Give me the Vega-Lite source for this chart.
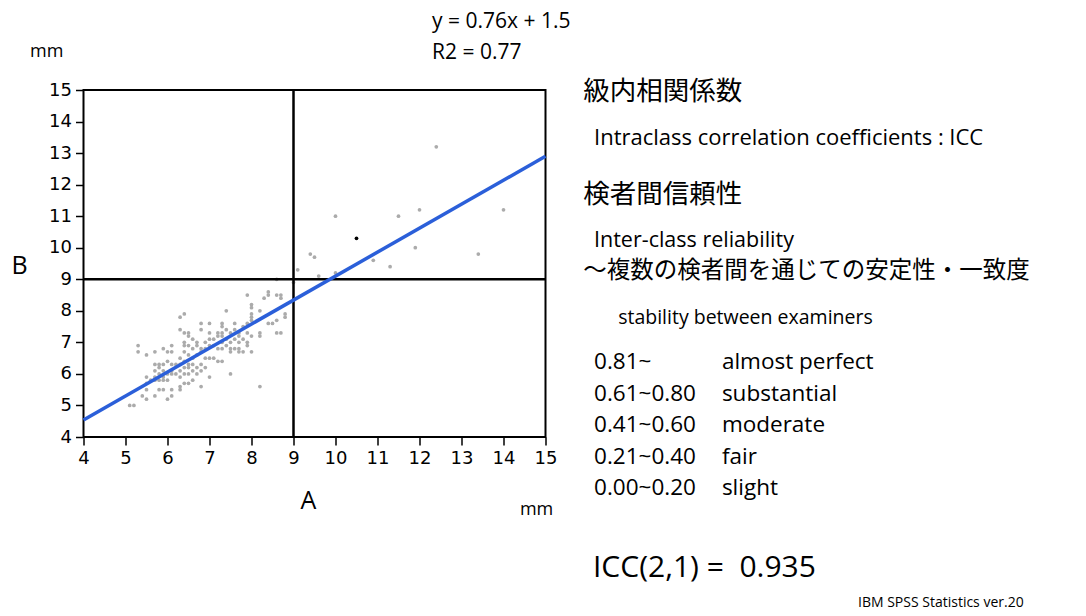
{
  "$schema": "https://vega.github.io/schema/vega-lite/v6.json",
  "width": 462,
  "height": 347,
  "autosize": "none",
  "padding": {"left": 83.5, "top": 90, "right": 540.5, "bottom": 179},
  "background": "white",
  "config": {
    "view": {"stroke": "black", "strokeWidth": 2},
    "font": "Open Sans",
    "axis": {
      "grid": false,
      "domain": false,
      "tickColor": "black",
      "tickSize": 8,
      "tickWidth": 1.5,
      "tickCount": 12,
      "labelFont": "DejaVu Sans",
      "labelFontSize": 18,
      "labelColor": "black",
      "labelPadding": 4,
      "labelOverlap": false,
      "labelFlush": false,
      "labelBound": false,
      "titleFont": "Open Sans",
      "titleFontSize": 25,
      "titleFontWeight": "normal",
      "titleColor": "black"
    }
  },
  "datasets": {
    "scatter": [
      {"a": 7.9, "b": 8.5}, {"a": 8.4, "b": 8.6}, {"a": 8.4, "b": 8.5}, {"a": 8.6, "b": 8.5},
      {"a": 8.7, "b": 8.5}, {"a": 8.7, "b": 8.4}, {"a": 8.3, "b": 8.4}, {"a": 8.0, "b": 8.2},
      {"a": 8.0, "b": 8.1}, {"a": 8.2, "b": 8.0}, {"a": 7.4, "b": 8.0}, {"a": 8.8, "b": 7.9},
      {"a": 8.8, "b": 7.8}, {"a": 6.4, "b": 7.9}, {"a": 6.3, "b": 7.8}, {"a": 8.0, "b": 7.9},
      {"a": 8.0, "b": 7.8}, {"a": 8.0, "b": 7.7}, {"a": 6.8, "b": 7.6}, {"a": 7.0, "b": 7.6},
      {"a": 7.3, "b": 7.6}, {"a": 7.3, "b": 7.5}, {"a": 7.6, "b": 7.6}, {"a": 7.8, "b": 7.5},
      {"a": 7.9, "b": 7.6}, {"a": 8.4, "b": 7.6}, {"a": 8.5, "b": 7.6}, {"a": 8.6, "b": 7.7},
      {"a": 8.2, "b": 7.3}, {"a": 8.2, "b": 7.2}, {"a": 8.6, "b": 7.3}, {"a": 8.7, "b": 7.3},
      {"a": 6.3, "b": 7.4}, {"a": 6.4, "b": 7.3}, {"a": 6.5, "b": 7.3}, {"a": 6.8, "b": 7.4},
      {"a": 7.0, "b": 7.3}, {"a": 7.2, "b": 7.3}, {"a": 7.3, "b": 7.3}, {"a": 7.4, "b": 7.4},
      {"a": 7.5, "b": 7.3}, {"a": 7.6, "b": 7.4}, {"a": 7.7, "b": 7.3}, {"a": 7.7, "b": 7.2},
      {"a": 7.9, "b": 7.3}, {"a": 6.5, "b": 7.2}, {"a": 6.6, "b": 7.1}, {"a": 6.4, "b": 7.0},
      {"a": 6.7, "b": 7.0}, {"a": 6.9, "b": 7.0}, {"a": 7.0, "b": 7.1}, {"a": 7.1, "b": 7.1},
      {"a": 7.2, "b": 7.2}, {"a": 7.3, "b": 7.0}, {"a": 7.4, "b": 7.1}, {"a": 7.5, "b": 7.0},
      {"a": 7.6, "b": 7.1}, {"a": 7.7, "b": 7.0}, {"a": 7.8, "b": 7.1}, {"a": 7.9, "b": 7.0},
      {"a": 8.0, "b": 7.2}, {"a": 7.3, "b": 7.2}, {"a": 5.3, "b": 6.9}, {"a": 5.3, "b": 6.7},
      {"a": 5.5, "b": 6.6}, {"a": 5.7, "b": 6.7}, {"a": 5.9, "b": 6.8}, {"a": 6.0, "b": 6.7},
      {"a": 6.1, "b": 6.7}, {"a": 6.1, "b": 6.9}, {"a": 6.4, "b": 6.9}, {"a": 6.5, "b": 6.9},
      {"a": 6.6, "b": 6.8}, {"a": 6.7, "b": 6.9}, {"a": 6.8, "b": 6.8}, {"a": 6.9, "b": 6.8},
      {"a": 7.0, "b": 6.9}, {"a": 7.1, "b": 6.9}, {"a": 7.2, "b": 6.8}, {"a": 7.3, "b": 6.8},
      {"a": 7.4, "b": 6.9}, {"a": 7.5, "b": 6.8}, {"a": 7.6, "b": 6.8}, {"a": 7.7, "b": 6.8},
      {"a": 7.9, "b": 6.9}, {"a": 8.0, "b": 6.7}, {"a": 6.4, "b": 6.7}, {"a": 6.5, "b": 6.6},
      {"a": 6.6, "b": 6.5}, {"a": 6.7, "b": 6.6}, {"a": 6.8, "b": 6.7}, {"a": 6.9, "b": 6.5},
      {"a": 7.0, "b": 6.5}, {"a": 7.1, "b": 6.5}, {"a": 7.2, "b": 6.4}, {"a": 7.3, "b": 6.4},
      {"a": 7.5, "b": 6.7}, {"a": 7.7, "b": 6.7}, {"a": 7.8, "b": 6.7}, {"a": 6.0, "b": 6.4},
      {"a": 6.3, "b": 6.5}, {"a": 6.4, "b": 6.4}, {"a": 5.7, "b": 6.3}, {"a": 5.8, "b": 6.3},
      {"a": 5.9, "b": 6.3}, {"a": 6.1, "b": 6.3}, {"a": 6.2, "b": 6.3}, {"a": 6.3, "b": 6.3},
      {"a": 6.4, "b": 6.2}, {"a": 6.5, "b": 6.3}, {"a": 6.6, "b": 6.3}, {"a": 6.7, "b": 6.2},
      {"a": 6.8, "b": 6.3}, {"a": 6.8, "b": 6.1}, {"a": 6.9, "b": 6.2}, {"a": 6.3, "b": 6.1},
      {"a": 6.5, "b": 6.2}, {"a": 6.6, "b": 6.1}, {"a": 6.1, "b": 6.1}, {"a": 5.9, "b": 6.1},
      {"a": 5.7, "b": 6.1}, {"a": 5.8, "b": 6.2}, {"a": 5.8, "b": 6.0}, {"a": 6.0, "b": 6.0},
      {"a": 6.1, "b": 6.0}, {"a": 6.2, "b": 6.0}, {"a": 6.3, "b": 5.9}, {"a": 6.4, "b": 6.0},
      {"a": 6.5, "b": 6.0}, {"a": 6.7, "b": 6.0}, {"a": 7.0, "b": 5.9}, {"a": 7.5, "b": 6.0},
      {"a": 5.5, "b": 5.9}, {"a": 5.7, "b": 5.9}, {"a": 5.9, "b": 5.9}, {"a": 5.9, "b": 5.8},
      {"a": 6.0, "b": 5.8}, {"a": 5.7, "b": 5.8}, {"a": 5.5, "b": 5.7}, {"a": 5.6, "b": 5.8},
      {"a": 5.8, "b": 5.8}, {"a": 6.3, "b": 5.6}, {"a": 6.4, "b": 5.7}, {"a": 6.5, "b": 5.7},
      {"a": 6.6, "b": 5.8}, {"a": 6.8, "b": 5.6}, {"a": 8.2, "b": 5.6}, {"a": 5.5, "b": 5.5},
      {"a": 5.8, "b": 5.5}, {"a": 5.9, "b": 5.5}, {"a": 6.1, "b": 5.5}, {"a": 6.3, "b": 5.5},
      {"a": 5.4, "b": 5.3}, {"a": 5.5, "b": 5.2}, {"a": 5.7, "b": 5.3}, {"a": 6.1, "b": 5.3},
      {"a": 6.0, "b": 5.2}, {"a": 5.1, "b": 5.0}, {"a": 5.2, "b": 5.0}, {"a": 8.6, "b": 9.0},
      {"a": 9.0, "b": 8.9}, {"a": 9.1, "b": 9.3}, {"a": 9.6, "b": 9.1}, {"a": 10.0, "b": 9.2},
      {"a": 9.4, "b": 9.8}, {"a": 9.5, "b": 9.7}, {"a": 10.9, "b": 9.6}, {"a": 11.3, "b": 9.4},
      {"a": 11.9, "b": 10.0}, {"a": 13.4, "b": 9.8}, {"a": 10.0, "b": 11.0}, {"a": 11.5, "b": 11.0},
      {"a": 12.0, "b": 11.2}, {"a": 14.0, "b": 11.2}, {"a": 12.4, "b": 13.2}
    ],
    "highlight": [{"a": 10.5, "b": 10.3}],
    "fit": [{"a": 4, "b": 4.54}, {"a": 15, "b": 12.9}]
  },
  "layer": [
    {
      "data": {"name": "scatter"},
      "mark": {"type": "circle", "size": 14, "color": "#ababab", "opacity": 1},
      "encoding": {
        "x": {
          "field": "a", "type": "quantitative",
          "scale": {"domain": [4, 15], "nice": false, "zero": false},
          "axis": {"values": [4, 5, 6, 7, 8, 9, 10, 11, 12, 13, 14, 15], "labelOverlap": false, "title": "A", "titleX": 224.5, "titleY": 63, "titleBaseline": "middle", "titleAlign": "center"}
        },
        "y": {
          "field": "b", "type": "quantitative",
          "scale": {"domain": [4, 15], "nice": false, "zero": false},
          "axis": {"values": [4, 5, 6, 7, 8, 9, 10, 11, 12, 13, 14, 15], "labelOverlap": false, "title": "B", "titleAngle": 0, "titleX": -64.5, "titleY": 175, "titleBaseline": "middle", "titleAlign": "center"}
        }
      }
    },
    {
      "data": {"name": "highlight"},
      "mark": {"type": "circle", "size": 14, "color": "black", "opacity": 1},
      "encoding": {
        "x": {"field": "a", "type": "quantitative"},
        "y": {"field": "b", "type": "quantitative"}
      }
    },
    {
      "data": {"values": [{}]},
      "mark": {"type": "rule", "color": "black", "strokeWidth": 2.5},
      "encoding": {"x": {"datum": 9}}
    },
    {
      "data": {"values": [{}]},
      "mark": {"type": "rule", "color": "black", "strokeWidth": 2.5},
      "encoding": {"y": {"datum": 9}}
    },
    {
      "data": {"name": "fit"},
      "mark": {"type": "line", "color": "#2b5fd9", "strokeWidth": 3.5},
      "encoding": {
        "x": {"field": "a", "type": "quantitative"},
        "y": {"field": "b", "type": "quantitative"}
      }
    },
    {
      "data": {"values": [{"t": "y = 0.76x + 1.5\nR2 = 0.77"}]},
      "mark": {"type": "text", "align": "left", "baseline": "middle", "lineBreak": "\n", "lineHeight": 31, "fontSize": 21, "color": "black"},
      "encoding": {"text": {"field": "t"}, "x": {"datum": 12.3}, "y": {"datum": 17.17}}
    },
    {
      "data": {"values": [{"t": "mm"}]},
      "mark": {"type": "text", "align": "left", "baseline": "middle", "fontSize": 18, "color": "black"},
      "encoding": {"text": {"field": "t"}, "x": {"datum": 2.726}, "y": {"datum": 16.19}}
    },
    {
      "data": {"values": [{"t": "mm"}]},
      "mark": {"type": "text", "align": "left", "baseline": "middle", "fontSize": 18, "color": "black"},
      "encoding": {"text": {"field": "t"}, "x": {"datum": 14.39}, "y": {"datum": 1.683}}
    },
    {
      "data": {"values": [{"t": "級内相関係数"}]},
      "mark": {"type": "text", "align": "left", "baseline": "middle", "fontSize": 26.5, "font": "Noto Sans CJK JP", "color": "black"},
      "encoding": {"text": {"field": "t"}, "x": {"datum": 15.9}, "y": {"datum": 14.95}}
    },
    {
      "data": {"values": [{"t": "Intraclass correlation coefficients : ICC"}]},
      "mark": {"type": "text", "align": "left", "baseline": "middle", "fontSize": 22, "color": "black"},
      "encoding": {"text": {"field": "t"}, "x": {"datum": 16.155}, "y": {"datum": 13.49}}
    },
    {
      "data": {"values": [{"t": "検者間信頼性"}]},
      "mark": {"type": "text", "align": "left", "baseline": "middle", "fontSize": 26.5, "font": "Noto Sans CJK JP", "color": "black"},
      "encoding": {"text": {"field": "t"}, "x": {"datum": 15.9}, "y": {"datum": 11.68}}
    },
    {
      "data": {"values": [{"t": "Inter-class reliability"}]},
      "mark": {"type": "text", "align": "left", "baseline": "middle", "fontSize": 21.5, "color": "black"},
      "encoding": {"text": {"field": "t"}, "x": {"datum": 16.155}, "y": {"datum": 10.2}}
    },
    {
      "data": {"values": [{"t": "〜複数の検者間を通じての安定性・一致度"}]},
      "mark": {"type": "text", "align": "left", "baseline": "middle", "fontSize": 23.5, "font": "Noto Sans CJK JP", "color": "black"},
      "encoding": {"text": {"field": "t"}, "x": {"datum": 15.9}, "y": {"datum": 9.25}}
    },
    {
      "data": {"values": [{"t": "stability between examiners"}]},
      "mark": {"type": "text", "align": "left", "baseline": "middle", "fontSize": 19.5, "color": "black"},
      "encoding": {"text": {"field": "t"}, "x": {"datum": 16.73}, "y": {"datum": 7.78}}
    },
    {
      "data": {"values": [{"t": "0.81~\n0.61~0.80\n0.41~0.60\n0.21~0.40\n0.00~0.20"}]},
      "mark": {"type": "text", "align": "left", "baseline": "middle", "lineBreak": "\n", "lineHeight": 31.6, "fontSize": 22.5, "color": "black"},
      "encoding": {"text": {"field": "t"}, "x": {"datum": 16.155}, "y": {"datum": 6.38}}
    },
    {
      "data": {"values": [{"t": "almost perfect\nsubstantial\nmoderate\nfair\nslight"}]},
      "mark": {"type": "text", "align": "left", "baseline": "middle", "lineBreak": "\n", "lineHeight": 31.6, "fontSize": 22.5, "color": "black"},
      "encoding": {"text": {"field": "t"}, "x": {"datum": 19.2}, "y": {"datum": 6.38}}
    },
    {
      "data": {"values": [{"t": "ICC(2,1) = \u00a00.935"}]},
      "mark": {"type": "text", "align": "left", "baseline": "middle", "fontSize": 30, "color": "black"},
      "encoding": {"text": {"field": "t"}, "x": {"datum": 16.13}, "y": {"datum": -0.16}}
    },
    {
      "data": {"values": [{"t": "IBM SPSS Statistics ver.20"}]},
      "mark": {"type": "text", "align": "left", "baseline": "middle", "fontSize": 14, "color": "black"},
      "encoding": {"text": {"field": "t"}, "x": {"datum": 22.44}, "y": {"datum": -1.27}}
    }
  ]
}
